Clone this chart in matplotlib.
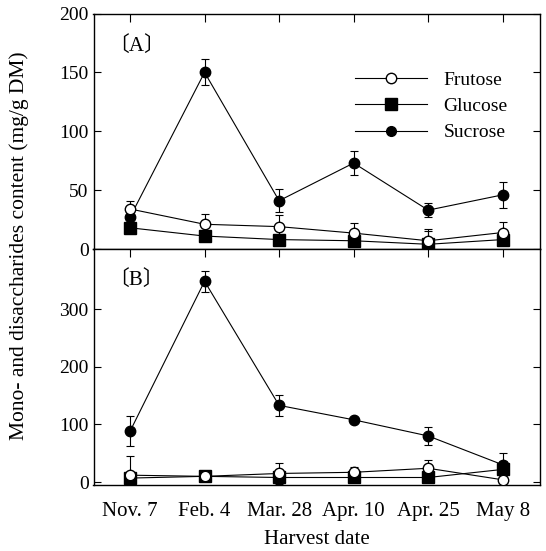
import matplotlib
matplotlib.use("Agg")
import matplotlib.pyplot as plt
from matplotlib.lines import Line2D
import numpy as np

dates = ["Nov. 7", "Feb. 4", "Mar. 28", "Apr. 10", "Apr. 25", "May 8"]

# Panel A
a_fru = [34, 21, 19, 13.5, 7, 14]
a_fru_err = [7, 9, 10, 9, 10, 9]
a_glu = [18, 11, 8, 7, 4, 8]
a_glu_err = [4, 4, 4, 3, 11, 5]
a_suc = [27, 150, 41, 73, 33, 46]
a_suc_err = [4, 11, 10, 10, 6, 11]

# Panel B
b_fru = [12, 10, 15, 17, 24, 4]
b_fru_err = [33, 5, 18, 10, 15, 2]
b_glu = [7, 10, 8, 8, 8, 22]
b_glu_err = [3, 3, 3, 3, 3, 15]
b_suc = [88, 348, 133, 108, 80, 30]
b_suc_err = [26, 18, 18, 2, 15, 20]

plt.rcParams['font.family'] = ['Liberation Serif', 'Noto Sans CJK JP', 'DejaVu Sans']
plt.rcParams['font.size'] = 14

W, H = 546, 551
fig = plt.figure(figsize=(W / 100, H / 100), dpi=100)
L, R, T, M, B = 93.5, 540, 13.5, 249, 485
axA = fig.add_axes([L / W, 1 - M / H, (R - L) / W, (M - T) / H])
axB = fig.add_axes([L / W, 1 - B / H, (R - L) / W, (B - M) / H])

x = np.arange(len(dates))

def draw(ax, fru, fe, glu, ge, suc, se):
    kw = dict(color='black', lw=0.8, capsize=3, elinewidth=0.8, capthick=0.8)
    ax.errorbar(x, suc, yerr=se, fmt='-o', ms=7.5, mfc='black', mec='black', zorder=3, **kw)
    ax.errorbar(x, glu, yerr=ge, fmt='-s', ms=8.5, mfc='black', mec='black', zorder=4, **kw)
    ax.errorbar(x, fru, yerr=fe, fmt='-o', ms=7.5, mfc='white', mec='black', zorder=5, **kw)
    ax.set_xlim(-0.49, 5.5)
    for s in ax.spines.values():
        s.set_linewidth(1.0)
    ax.tick_params(axis='y', direction='in', left=True, right=True, length=5, width=0.8, labelsize=14)
    ax.tick_params(axis='x', direction='in', top=True, bottom=False, length=6, width=0.8)

draw(axA, a_fru, a_fru_err, a_glu, a_glu_err, a_suc, a_suc_err)
draw(axB, b_fru, b_fru_err, b_glu, b_glu_err, b_suc, b_suc_err)

axA.set_ylim(0, 200)
axA.set_yticks([0, 50, 100, 150, 200])
axA.set_xticks(x)
axA.set_xticklabels([])

axB.set_ylim(-5, 404)
axB.set_yticks([0, 100, 200, 300])
axB.set_xticks(x)
axB.set_xticklabels(dates, fontsize=15)
axB.tick_params(axis='x', pad=12)
axB.set_xlabel("Harvest date", fontsize=15, labelpad=7)

axA.text(0.033, 0.86, "〔A〕", transform=axA.transAxes, fontsize=15, va='center', ha='left')
axB.text(0.033, 0.87, "〔B〕", transform=axB.transAxes, fontsize=15, va='center', ha='left')

handles = [
    Line2D([], [], color='black', lw=0.8, marker='o', ms=7.5, mfc='white', mec='black'),
    Line2D([], [], color='black', lw=0.8, marker='s', ms=8.5, mfc='black', mec='black'),
    Line2D([], [], color='black', lw=0.8, marker='o', ms=7, mfc='black', mec='black'),
]
labels = ["Frutose", "Glucose", "Sucrose"]
fig.legend(handles, labels, loc='upper left', bbox_to_anchor=(355 / W, 1 - 71 / H),
           frameon=False, fontsize=14, borderpad=0, borderaxespad=0,
           handlelength=3.7, handletextpad=0.85, labelspacing=0.45)

fig.text(19 / W, 1 - 246 / H, "Mono- and disaccharides content (mg/g DM)",
         rotation=90, va='center', ha='center', fontsize=15.5)

fig.savefig("out.png", dpi=100)
